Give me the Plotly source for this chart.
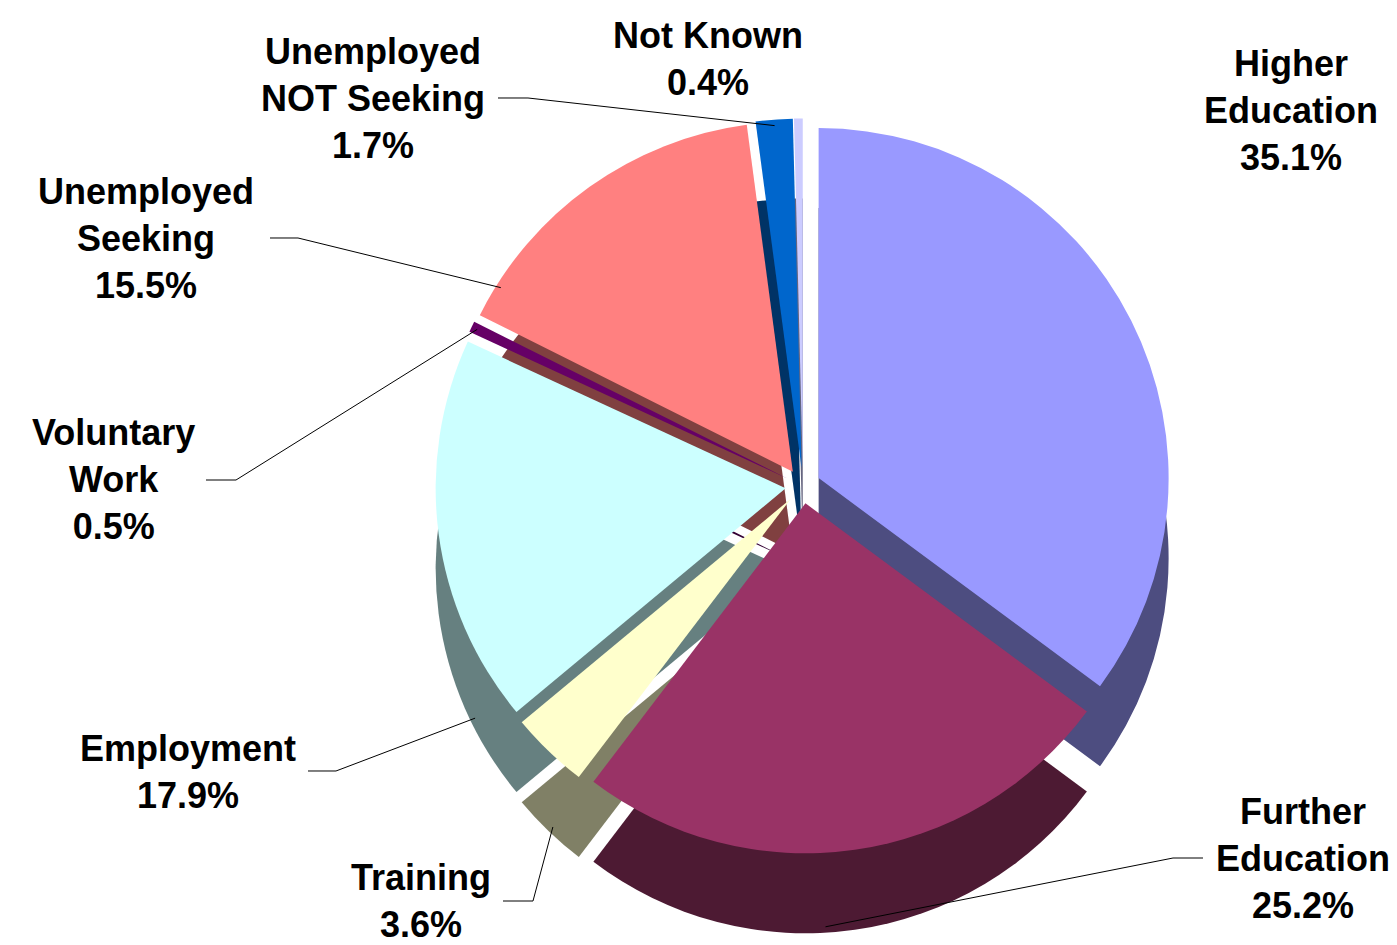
import math
import plotly.graph_objects as go

categories = ["Higher Education", "Further Education", "Training", "Employment",
              "Voluntary Work", "Unemployed Seeking", "Unemployed NOT Seeking", "Not Known"]
label_text = ["Higher<br>Education", "Further<br>Education", "Training", "Employment",
              "Voluntary<br>Work", "Unemployed<br>Seeking", "Unemployed<br>NOT Seeking", "Not Known"]
values = [35.1, 25.2, 3.6, 17.9, 0.5, 15.5, 1.7, 0.4]

top_colors = ["#9999FF", "#993366", "#FFFFCC", "#CCFFFF", "#660066", "#FF8080", "#0066CC", "#CCCCFF"]
side_colors = ["#4D4D80", "#4D1A33", "#808066", "#668080", "#330033", "#804040", "#003366", "#666680"]

W, H = 1397, 945
PULL = 0.05
CX, CY = 795, 478          # pie centre (px)
BOX = 735                  # pie box height (px)
DEPTH = 80                 # fake 3D depth (px)

def px_x(x):
    return x / W

def px_y(y):
    return 1 - y / H

top_dom_y = [px_y(CY + BOX / 2), px_y(CY - BOX / 2)]
bot_dom_y = [px_y(CY + DEPTH + BOX / 2), px_y(CY + DEPTH - BOX / 2)]
dom_x = [px_x(CX - 510), px_x(CX + 510)]

fig = go.Figure()
fig.add_trace(go.Pie(
    labels=categories, values=values, sort=False, direction="clockwise", rotation=0,
    pull=[PULL] * len(values), marker=dict(colors=side_colors, line=dict(width=0)),
    textinfo="none", domain=dict(x=dom_x, y=bot_dom_y), hoverinfo="skip", showlegend=False,
))
fig.add_trace(go.Pie(
    labels=categories, values=values, sort=False, direction="clockwise", rotation=0,
    pull=[PULL] * len(values), marker=dict(colors=top_colors, line=dict(width=0)),
    textinfo="none", domain=dict(x=dom_x, y=top_dom_y), showlegend=False,
))

# label placement (px centres) and leader-line styling
label_pos = [(1283, 103), (1295, 850), (413, 893), (180, 764),
             (105, 472), (138, 230), (365, 90), (700, 51)]
# leader: (start x, start y, elbow x, elbow y, fraction within slice, on side layer) or None
leaders = [None,
           (1195, 850, 1165, 850, 0.55, True),
           (495, 893, 525, 893, 0.5, True),
           (300, 763, 328, 763, 0.23, True),
           (198, 472, 228, 472, 0.5, False),
           (262, 230, 290, 230, 0.12, False),
           (490, 90, 520, 90, 0.5, False),
           None]

total = sum(values)
R_edge = BOX / 2
cum = 0.0
for i, v in enumerate(values):
    txt = "<b>%s<br>%.1f%%</b>" % (label_text[i], v)
    lx, ly = label_pos[i]
    fig.add_annotation(x=px_x(lx), y=px_y(ly), xref="paper", yref="paper", text=txt,
                       showarrow=False, xanchor="center", yanchor="middle",
                       font=dict(family="Liberation Sans, Arial, sans-serif", size=36, color="black"))
    ld = leaders[i]
    if ld is not None:
        sx, sy, ex, ey, frac, side = ld
        ang = 2 * math.pi * (cum + frac * v) / total
        cy = CY + (DEPTH if side else 0)
        rr = R_edge - 6
        tx = CX + rr * math.sin(ang)
        ty = cy - rr * math.cos(ang)
        path = "M %f %f L %f %f L %f %f" % (px_x(sx), px_y(sy), px_x(ex), px_y(ey), px_x(tx), px_y(ty))
        fig.add_shape(type="path", path=path, xref="paper", yref="paper",
                      line=dict(color="black", width=1))
    cum += v

fig.update_layout(
    width=W, height=H,
    margin=dict(l=0, r=0, t=0, b=0),
    paper_bgcolor="white", plot_bgcolor="white",
    showlegend=False,
)
fig.write_html("out.html")
